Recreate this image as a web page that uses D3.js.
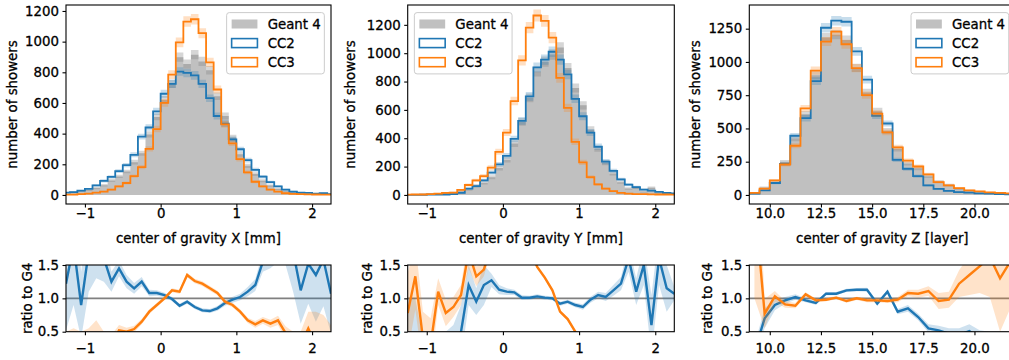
<!DOCTYPE html>
<html><head><meta charset="utf-8">
<script src="https://cdn.jsdelivr.net/npm/d3@7"></script>
<style>body{margin:0;background:#fff} svg{display:block} text{font-family:"DejaVu Sans";fill:#000;stroke:#000;stroke-width:0.3px}</style>
</head><body><svg id="c" width="1009" height="360"></svg>
<script>
// ---------------- data ----------------
const centersXY = [-1.25,-1.15,-1.05,-0.95,-0.85,-0.75,-0.65,-0.55,-0.45,-0.35,-0.25,-0.15,-0.05,0.05,0.15,0.25,0.35,0.45,0.55,0.65,0.75,0.85,0.95,1.05,1.15,1.25,1.35,1.45,1.55,1.65,1.75,1.85,1.95,2.05,2.15,2.25];
const centersZ = [9.25,9.75,10.25,10.75,11.25,11.75,12.25,12.75,13.25,13.75,14.25,14.75,15.25,15.75,16.25,16.75,17.25,17.75,18.25,18.75,19.25,19.75,20.25,20.75,21.25,21.75];

// panel X
const g4X  = [6,17,24,32,45,63,95,121,153,214,272,395,509,620,725,899,854,915,871,813,644,515,374,266,190,136,93,61,39,26,17,11,6,5,4,3];
const cc2X = [15,18,28,40,62,92,118,155,195,262,380,440,545,660,725,805,796,780,724,631,515,465,363,298,227,164,119,84,56,35,22,15,13,9,11,5];
const cc3X = [2,2,6,9,15,22,35,56,78,123,181,300,430,601,785,995,1131,1146,1055,865,688,461,337,234,147,86,56,35,22,11,7,5,4,3,2,2];
const eG4X  = [3,5,5,6,7,8,10,11,12,15,16,20,22,25,27,30,29,30,30,28,25,23,19,16,14,12,10,8,6,5,4,3,3,2,2,2];
const eCC2X = [4,4,5,6,8,10,11,12,14,16,19,21,23,26,27,28,28,28,27,25,23,22,19,17,15,13,11,9,7,6,5,4,4,3,3,2];
const eCC3X = [2,2,3,3,4,5,6,8,9,11,14,17,21,25,28,32,34,34,33,30,26,22,18,15,12,9,8,6,5,3,3,2,2,2,1,1];
const rCC2X = [1.22,1.8,0.9,1.7,1.8,1.6,1.25,1.45,1.25,1.15,1.25,1.08,1.08,1.05,0.99,0.89,0.95,0.87,0.82,0.81,0.85,0.93,0.98,1.02,1.1,1.2,1.55,1.7,1.9,2.0,1.7,1.12,1.52,1.35,1.58,1.07];
const eRCC2X = [0.7,0.9,0.5,0.6,0.5,0.35,0.15,0.12,0.1,0.08,0.07,0.05,0.04,0.035,0.03,0.03,0.03,0.03,0.03,0.03,0.035,0.04,0.045,0.05,0.07,0.09,0.15,0.25,0.35,0.5,0.6,0.5,0.6,0.7,0.7,0.6];
const rCC3X = [0.2,0.2,0.2,0.25,0.3,0.3,0.3,0.52,0.5,0.54,0.65,0.8,0.9,1.0,1.12,1.1,1.35,1.26,1.22,1.15,1.08,0.95,0.9,0.8,0.67,0.61,0.67,0.62,0.67,0.48,0.35,0.3,0.55,0.3,0.35,0.3];
const eRCC3X = [0.3,0.35,0.3,0.3,0.37,0.2,0.15,0.08,0.06,0.05,0.04,0.035,0.03,0.03,0.03,0.03,0.035,0.035,0.035,0.035,0.035,0.035,0.035,0.035,0.04,0.05,0.05,0.06,0.07,0.1,0.15,0.2,0.25,0.5,0.4,0.3];

// panel Y
const g4Y  = [3,5,8,10,8,15,18,28,38,65,85,125,190,248,362,515,685,870,940,990,1040,895,755,632,460,325,228,152,90,45,50,25,50,14,13,9];
const cc2Y = [1,1,1,2,2,3,5,14,45,62,102,158,215,275,395,522,695,900,955,1010,955,850,678,555,440,340,235,170,110,72,55,38,30,22,15,10];
const cc3Y = [2,3,3,5,9,14,16,35,70,103,133,192,304,440,662,950,1180,1266,1228,1110,826,614,375,230,125,75,45,27,15,9,6,5,4,3,3,2];
const eG4Y  = [2,3,4,4,4,5,5,6,8,10,12,14,17,20,23,27,31,35,36,37,38,35,32,29,25,21,18,15,12,9,9,7,9,5,4,4];
const eCC2Y = [1,1,1,2,2,2,3,5,8,10,12,15,17,20,23,27,31,35,36,37,36,34,30,28,25,22,18,15,12,10,9,7,6,5,4,4];
const eCC3Y = [2,2,2,3,4,4,5,7,10,12,14,17,21,25,30,36,40,42,41,39,34,29,23,18,13,10,8,6,5,4,3,3,2,2,2,2];
const rCC2Y = [0.1,0.1,0.1,0.15,0.2,0.2,0.3,0.5,1.2,0.95,1.2,1.27,1.13,1.1,1.09,1.01,1.01,1.03,1.01,1.0,0.92,0.95,0.9,0.87,0.98,1.05,1.02,1.12,1.22,1.6,1.1,1.5,0.6,1.6,1.15,1.07];
const eRCC2Y = [0.9,0.9,0.3,0.3,0.3,0.3,0.3,0.4,0.3,0.2,0.3,0.1,0.07,0.05,0.04,0.035,0.03,0.03,0.03,0.03,0.03,0.03,0.035,0.04,0.045,0.05,0.06,0.08,0.1,0.2,0.2,0.3,0.45,0.4,0.35,0.1];
const rCC3Y = [0.78,1.33,0.4,0.3,1.1,0.78,0.87,1.05,1.7,1.33,1.43,1.8,1.9,1.8,1.85,1.9,1.75,1.47,1.31,1.12,0.8,0.69,0.5,0.36,0.27,0.23,0.2,0.19,0.18,0.2,0.15,0.2,0.1,0.2,0.3,0.2];
const eRCC3Y = [0.6,0.5,0.4,0.4,0.2,0.2,0.15,0.15,0.25,0.15,0.1,0.08,0.06,0.05,0.04,0.035,0.03,0.03,0.03,0.03,0.03,0.03,0.03,0.03,0.04,0.05,0.05,0.05,0.05,0.05,0.05,0.05,0.05,0.05,0.05,0.05];

// panel Z
const g4Z  = [8,55,97,246,425,606,900,1183,1205,1165,955,770,630,482,345,237,200,140,100,75,45,28,19,13,11,8];
const cc2Z = [10,35,90,234,445,577,855,1257,1310,1302,1079,867,595,537,263,196,142,72,45,30,22,17,12,10,7,5];
const cc3Z = [15,47,109,229,370,651,934,1153,1228,1133,954,750,612,470,358,258,214,154,97,72,52,35,27,20,15,12];
const eG4Z  = [3,8,10,16,21,25,30,34,35,34,31,28,25,22,19,15,14,12,10,9,7,5,4,4,3,3];
const eCC2Z = [3,6,10,15,21,24,29,35,36,36,33,29,24,23,16,14,12,8,7,5,5,4,3,3,3,2];
const eCC3Z = [4,7,10,15,19,25,31,34,35,34,31,27,25,22,19,16,15,12,10,8,7,6,5,4,4,3];
const rCC2Z = [0.2,0.7,0.9,0.97,1.02,0.97,0.93,1.07,1.07,1.12,1.13,1.13,0.92,1.1,0.8,0.85,0.72,0.55,0.52,0.47,0.45,0.51,0.4,0.35,0.35,0.3];
const eRCC2Z = [0.1,0.15,0.08,0.05,0.04,0.03,0.025,0.025,0.025,0.025,0.025,0.03,0.03,0.03,0.04,0.05,0.05,0.06,0.07,0.08,0.1,0.1,0.12,0.15,0.15,0.15];
const rCC3Z = [2.5,0.77,1.03,0.91,0.89,1.06,0.97,0.98,1.01,0.96,1.0,0.97,0.97,0.96,0.98,1.08,1.07,1.11,0.96,0.98,1.22,1.35,1.48,1.62,1.3,1.55];
const eRCC3Z = [1.5,0.22,0.08,0.05,0.04,0.03,0.025,0.025,0.025,0.025,0.025,0.03,0.03,0.03,0.04,0.05,0.06,0.07,0.12,0.12,0.2,0.3,0.4,0.6,0.8,0.7];

const ticksXY = [-1,0,1,2];
const ticksZ = [10,12.5,15,17.5,20];
const yTicksXY = [0,200,400,600,800,1000,1200];
const yTicksZ = [0,250,500,750,1000,1250];
const ratioTicks = [0.5,1.0,1.5];
const legendLabels = ["Geant 4","CC2","CC3"];

// ---------------- drawing ----------------
const svg = d3.select('#c');
const FS = 13.33;
const BLUE = '#1f77b4', ORANGE = '#ff7f0e', SILVER = '#c0c0c0';
const MAIN = {top:5, bottom:204}, RAT = {top:265, bottom:331.7};
let clipId = 0;

function fmtMinus(v, dec){ const s = dec ? v.toFixed(dec) : String(v); return s.replace('-', '\u2212'); }

function makeClip(x0,x1,y0,y1){
  const id = 'cl'+(clipId++);
  svg.append('clipPath').attr('id',id).append('rect').attr('x',x0).attr('y',y0).attr('width',x1-x0).attr('height',y1-y0);
  return 'url(#'+id+')';
}

function stepPath(x,y,centers,w,vals){
  let d = `M${x(centers[0]-w/2)},${y(0)}`;
  centers.forEach((c,i)=>{ d += `V${y(vals[i])}H${x(c+w/2)}`; });
  d += `V${y(0)}`;
  return d;
}
function bandPoly(x,y,centers,w,lo,hi){
  const pts = [];
  centers.forEach((c,i)=>{ pts.push([x(c-w/2), y(hi[i])],[x(c+w/2), y(hi[i])]); });
  for(let i=centers.length-1;i>=0;i--){ pts.push([x(centers[i]+w/2), y(lo[i])],[x(centers[i]-w/2), y(lo[i])]); }
  return d3.line()(pts) + 'Z';
}

function panel(p){
  const x = d3.scaleLinear().domain(p.xdom).range([p.left,p.right]);
  const y = d3.scaleLinear().domain(p.ydom).range([MAIN.bottom,MAIN.top]);
  const yr = d3.scaleLinear().domain([0.5,1.5]).range([RAT.bottom,RAT.top]);
  const w = p.w, C = p.centers;

  // ---- main ----
  const gm = svg.append('g').attr('clip-path', makeClip(p.left,p.right,MAIN.top,MAIN.bottom));
  const sub = (a,b)=>a.map((v,i)=>v-b[i]), add=(a,b)=>a.map((v,i)=>v+b[i]);
  const zeros = C.map(()=>0);
  gm.append('path').attr('d', bandPoly(x,y,C,w,zeros,p.g4)).attr('fill',SILVER);
  gm.append('path').attr('d', bandPoly(x,y,C,w,sub(p.g4,p.eg4),add(p.g4,p.eg4))).attr('fill','#808080').attr('fill-opacity',0.32);
  gm.append('path').attr('d', bandPoly(x,y,C,w,sub(p.cc2,p.ecc2),add(p.cc2,p.ecc2))).attr('fill',BLUE).attr('fill-opacity',0.25);
  gm.append('path').attr('d', stepPath(x,y,C,w,p.cc2)).attr('fill','none').attr('stroke',BLUE).attr('stroke-width',1.8);
  gm.append('path').attr('d', bandPoly(x,y,C,w,sub(p.cc3,p.ecc3),add(p.cc3,p.ecc3))).attr('fill',ORANGE).attr('fill-opacity',0.25);
  gm.append('path').attr('d', stepPath(x,y,C,w,p.cc3)).attr('fill','none').attr('stroke',ORANGE).attr('stroke-width',1.8);

  // axes main
  const ax = svg.append('g').attr('transform',`translate(0,${MAIN.bottom})`)
    .call(d3.axisBottom(x).tickValues(p.xticks).tickSize(3.5).tickPadding(1.5).tickFormat(v=>fmtMinus(v,p.xdec)));
  const ay = svg.append('g').attr('transform',`translate(${p.left},0)`)
    .call(d3.axisLeft(y).tickValues(p.yticks).tickSize(3.5).tickPadding(3.5).tickFormat(v=>String(v)));
  [ax,ay].forEach(g=>{ g.select('.domain').remove(); g.selectAll('text').attr('font-size',FS).attr('font-family','DejaVu Sans').attr('fill','#000'); g.selectAll('line').attr('stroke','#000').attr('stroke-width',1.1); });
  svg.append('rect').attr('x',p.left).attr('y',MAIN.top).attr('width',p.right-p.left).attr('height',MAIN.bottom-MAIN.top)
    .attr('fill','none').attr('stroke','#000').attr('stroke-width',1.1);
  svg.append('text').attr('x',(p.left+p.right)/2).attr('y',242.5).attr('text-anchor','middle').attr('font-size',FS).text(p.xlabel);
  svg.append('text').attr('transform',`translate(${p.ylabX},${(MAIN.top+MAIN.bottom)/2}) rotate(-90)`).attr('text-anchor','middle')
    .attr('dy','0.35em').attr('font-size',FS).text('number of showers');

  // legend
  const lw = 97.7, lh = 61.3;
  const lx = p.legendLeft ? p.left+6.67 : p.right-6.67-lw, ly = MAIN.top+7.6;
  const lg = svg.append('g');
  lg.append('rect').attr('x',lx).attr('y',ly).attr('width',lw).attr('height',lh).attr('rx',2.7)
    .attr('fill','#fff').attr('fill-opacity',0.8).attr('stroke','#cccccc').attr('stroke-width',1);
  legendLabels.forEach((lab,i)=>{
    const cy = ly + 11.4 + i*19.1;
    const r = lg.append('rect').attr('x',lx+5).attr('y',cy-4.5).attr('width',25.8).attr('height',9);
    if(i===0) r.attr('fill',SILVER);
    else r.attr('fill','#fff').attr('stroke', i===1?BLUE:ORANGE).attr('stroke-width',1.6);
    lg.append('text').attr('x',lx+41).attr('y',cy).attr('dy','0.36em').attr('font-size',FS).text(lab);
  });

  // ---- ratio ----
  const gr = svg.append('g').attr('clip-path', makeClip(p.left,p.right,RAT.top,RAT.bottom));
  gr.append('line').attr('x1',p.left).attr('x2',p.right).attr('y1',yr(1)).attr('y2',yr(1)).attr('stroke','#808080').attr('stroke-width',1.6);
  const area = d3.area().x((d,i)=>x(C[i])).y0(d=>yr(d[0])).y1(d=>yr(d[1]));
  const line = d3.line().x((d,i)=>x(C[i])).y(d=>yr(d));
  gr.append('path').attr('d', area(p.r2.map((v,i)=>[v-p.er2[i], v+p.er2[i]]))).attr('fill',BLUE).attr('fill-opacity',0.22);
  gr.append('path').attr('d', line(p.r2)).attr('fill','none').attr('stroke',BLUE).attr('stroke-width',2.4);
  gr.append('path').attr('d', area(p.r3.map((v,i)=>[v-p.er3[i], v+p.er3[i]]))).attr('fill',ORANGE).attr('fill-opacity',0.22);
  gr.append('path').attr('d', line(p.r3)).attr('fill','none').attr('stroke',ORANGE).attr('stroke-width',2.4);

  const rx = svg.append('g').attr('transform',`translate(0,${RAT.bottom})`)
    .call(d3.axisBottom(x).tickValues(p.xticks).tickSize(3.5).tickPadding(8).tickFormat(v=>fmtMinus(v,p.xdec)));
  const ry = svg.append('g').attr('transform',`translate(${p.left},0)`)
    .call(d3.axisLeft(yr).tickValues(ratioTicks).tickSize(3.5).tickPadding(3.5).tickFormat(d3.format('.1f')));
  [rx,ry].forEach(g=>{ g.select('.domain').remove(); g.selectAll('text').attr('font-size',FS).attr('font-family','DejaVu Sans').attr('fill','#000'); g.selectAll('line').attr('stroke','#000').attr('stroke-width',1.1); });
  svg.append('rect').attr('x',p.left).attr('y',RAT.top).attr('width',p.right-p.left).attr('height',RAT.bottom-RAT.top)
    .attr('fill','none').attr('stroke','#000').attr('stroke-width',1.1);
  svg.append('text').attr('transform',`translate(${p.rlabX},${(RAT.top+RAT.bottom)/2}) rotate(-90)`).attr('text-anchor','middle')
    .attr('dy','0.35em').attr('font-size',FS).text('ratio to G4');
}

panel({left:66, right:331, xdom:[-1.25,2.25], ydom:[-59,1239], centers:centersXY, w:0.1,
  g4:g4X, cc2:cc2X, cc3:cc3X, eg4:eG4X, ecc2:eCC2X, ecc3:eCC3X, r2:rCC2X, er2:eRCC2X, r3:rCC3X, er3:eRCC3X,
  xticks:ticksXY, xdec:0, yticks:yTicksXY, xlabel:'center of gravity X [mm]', ylabX:12, rlabX:27, legendLeft:false});
panel({left:407.7, right:674.3, xdom:[-1.25,2.25], ydom:[-64,1340], centers:centersXY, w:0.1,
  g4:g4Y, cc2:cc2Y, cc3:cc3Y, eg4:eG4Y, ecc2:eCC2Y, ecc3:eCC3Y, r2:rCC2Y, er2:eRCC2Y, r3:rCC3Y, er3:eRCC3Y,
  xticks:ticksXY, xdec:0, yticks:yTicksXY, xlabel:'center of gravity Y [mm]', ylabX:350, rlabX:367, legendLeft:true});
panel({left:749.3, right:1015.4, xdom:[9,22], ydom:[-68,1428], centers:centersZ, w:0.5,
  g4:g4Z, cc2:cc2Z, cc3:cc3Z, eg4:eG4Z, ecc2:eCC2Z, ecc3:eCC3Z, r2:rCC2Z, er2:eRCC2Z, r3:rCC3Z, er3:eRCC3Z,
  xticks:ticksZ, xdec:1, yticks:yTicksZ, xlabel:'center of gravity Z [layer]', ylabX:695, rlabX:707, legendLeft:false});
</script>
</body></html>
